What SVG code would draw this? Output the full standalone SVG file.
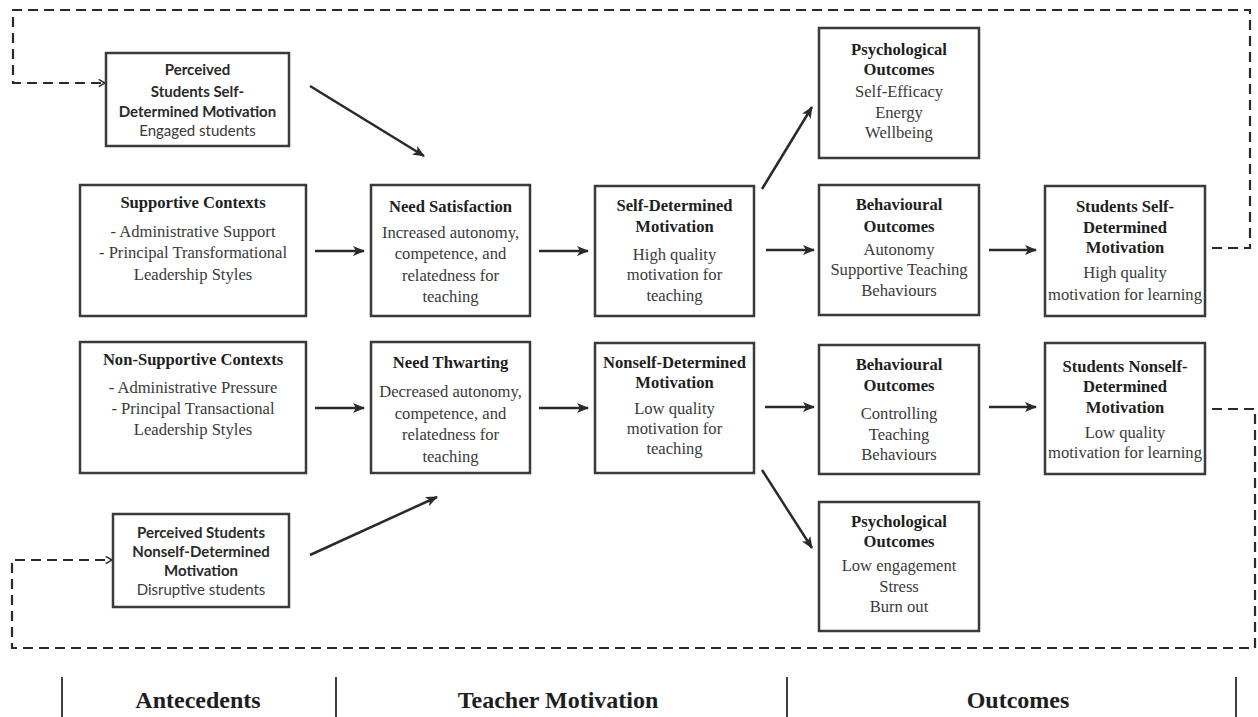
<svg xmlns="http://www.w3.org/2000/svg" width="1258" height="717" viewBox="0 0 1258 717">
<defs>
<style>
.box{fill:#fff;stroke:#3a3a3a;stroke-width:2.5}
.t{font-family:"Liberation Serif","Times New Roman",serif;font-size:16.6px;font-weight:bold;fill:#1e1e1e;text-anchor:middle}
.b{font-family:"Liberation Serif","Times New Roman",serif;font-size:16.6px;fill:#3a3a3a;text-anchor:middle}
.st{font-family:Lato,"Liberation Sans",sans-serif;font-size:15px;font-weight:bold;fill:#2a2a2a;text-anchor:middle}
.sb{font-family:Lato,"Liberation Sans",sans-serif;font-size:15px;fill:#3a3a3a;text-anchor:middle}
.lab{font-family:"Liberation Serif","Times New Roman",serif;font-size:24px;font-weight:bold;fill:#1e1e1e;text-anchor:middle}
.arr{fill:none;stroke:#2a2a2a;stroke-width:2.5;marker-end:url(#ah)}
.darr{fill:none;stroke:#2a2a2a;stroke-width:2.2;stroke-dasharray:10 6;marker-end:url(#dh)}
.sep{stroke:#2a2a2a;stroke-width:1.8}
</style>
<marker id="ah" viewBox="0 0 12 10" refX="11" refY="5" markerWidth="12" markerHeight="10" markerUnits="userSpaceOnUse" orient="auto">
<path d="M0,0 L12,5 L0,10 L3,5 Z" fill="#2a2a2a"/>
</marker>
<marker id="dh" viewBox="0 0 10 10" refX="9" refY="5" markerWidth="9" markerHeight="9" markerUnits="userSpaceOnUse" orient="auto">
<path d="M2,1 L9,5 L2,9" fill="none" stroke="#2a2a2a" stroke-width="1.6"/>
</marker>
</defs>
<rect width="1258" height="717" fill="#fff"/>

<g id="connectors">
<path class="arr" d="M310,86 L424,156"/>
<path class="arr" d="M315,251 L364,251"/>
<path class="arr" d="M539,251 L588,251"/>
<path class="arr" d="M762,189 L812,107"/>
<path class="arr" d="M766,250 L814,250"/>
<path class="arr" d="M989,250 L1036,250"/>
<path class="arr" d="M315,408 L364,408"/>
<path class="arr" d="M539,408 L588,408"/>
<path class="arr" d="M765,407 L814,407"/>
<path class="arr" d="M989,407 L1036,407"/>
<path class="arr" d="M762,470 L812,548"/>
<path class="arr" d="M310,555 L437,497"/>
<path class="darr" d="M1212,248 L1250,248 L1250,10 L13,10 L13,83 L105,83"/>
<path class="darr" d="M1212,409 L1255,409 L1255,648 L12,648 L12,560 L112,560"/>
</g>

<g id="n-perceived-self">
<rect class="box" x="106" y="53" width="183" height="93"/>
<text class="st" x="197.5" y="75">Perceived</text>
<text class="st" x="197.5" y="97">Students Self-</text>
<text class="st" x="197.5" y="117">Determined Motivation</text>
<text class="sb" x="197.5" y="136">Engaged students</text>
</g>

<g id="n-supportive">
<rect class="box" x="80" y="185" width="226" height="131"/>
<text class="t" x="193" y="208">Supportive Contexts</text>
<text class="b" x="193" y="237">- Administrative Support</text>
<text class="b" x="193" y="258">- Principal Transformational</text>
<text class="b" x="193" y="280">Leadership Styles</text>
</g>

<g id="n-need-satisfaction">
<rect class="box" x="371" y="185" width="159" height="131"/>
<text class="t" x="450.5" y="212">Need Satisfaction</text>
<text class="b" x="450.5" y="238">Increased autonomy,</text>
<text class="b" x="450.5" y="259">competence, and</text>
<text class="b" x="450.5" y="281">relatedness for</text>
<text class="b" x="450.5" y="302">teaching</text>
</g>

<g id="n-sdm">
<rect class="box" x="595" y="186" width="159" height="130"/>
<text class="t" x="674.5" y="211">Self-Determined</text>
<text class="t" x="674.5" y="232">Motivation</text>
<text class="b" x="674.5" y="260">High quality</text>
<text class="b" x="674.5" y="280">motivation for</text>
<text class="b" x="674.5" y="301">teaching</text>
</g>

<g id="n-psych-pos">
<rect class="box" x="819" y="28" width="160" height="130"/>
<text class="t" x="899" y="55">Psychological</text>
<text class="t" x="899" y="75">Outcomes</text>
<text class="b" x="899" y="97">Self-Efficacy</text>
<text class="b" x="899" y="118">Energy</text>
<text class="b" x="899" y="138">Wellbeing</text>
</g>

<g id="n-behav-pos">
<rect class="box" x="819" y="185" width="160" height="130"/>
<text class="t" x="899" y="210">Behavioural</text>
<text class="t" x="899" y="232">Outcomes</text>
<text class="b" x="899" y="255">Autonomy</text>
<text class="b" x="899" y="275">Supportive Teaching</text>
<text class="b" x="899" y="296">Behaviours</text>
</g>

<g id="n-students-sdm">
<rect class="box" x="1045" y="186" width="160" height="130"/>
<text class="t" x="1125" y="212">Students Self-</text>
<text class="t" x="1125" y="233">Determined</text>
<text class="t" x="1125" y="253">Motivation</text>
<text class="b" x="1125" y="278">High quality</text>
<text class="b" x="1125" y="300">motivation for learning</text>
</g>

<g id="n-nonsupportive">
<rect class="box" x="80" y="342" width="226" height="131"/>
<text class="t" x="193" y="365">Non-Supportive Contexts</text>
<text class="b" x="193" y="393">- Administrative Pressure</text>
<text class="b" x="193" y="414">- Principal Transactional</text>
<text class="b" x="193" y="435">Leadership Styles</text>
</g>

<g id="n-need-thwarting">
<rect class="box" x="371" y="342" width="159" height="131"/>
<text class="t" x="450.5" y="368">Need Thwarting</text>
<text class="b" x="450.5" y="397">Decreased autonomy,</text>
<text class="b" x="450.5" y="419">competence, and</text>
<text class="b" x="450.5" y="440">relatedness for</text>
<text class="b" x="450.5" y="462">teaching</text>
</g>

<g id="n-nsdm">
<rect class="box" x="595" y="343" width="159" height="130"/>
<text class="t" x="674.5" y="368">Nonself-Determined</text>
<text class="t" x="674.5" y="388">Motivation</text>
<text class="b" x="674.5" y="414">Low quality</text>
<text class="b" x="674.5" y="434">motivation for</text>
<text class="b" x="674.5" y="454">teaching</text>
</g>

<g id="n-behav-neg">
<rect class="box" x="819" y="345" width="160" height="129"/>
<text class="t" x="899" y="370">Behavioural</text>
<text class="t" x="899" y="391">Outcomes</text>
<text class="b" x="899" y="419">Controlling</text>
<text class="b" x="899" y="440">Teaching</text>
<text class="b" x="899" y="460">Behaviours</text>
</g>

<g id="n-students-nsdm">
<rect class="box" x="1045" y="343" width="160" height="131"/>
<text class="t" x="1125" y="372">Students Nonself-</text>
<text class="t" x="1125" y="392">Determined</text>
<text class="t" x="1125" y="413">Motivation</text>
<text class="b" x="1125" y="438">Low quality</text>
<text class="b" x="1125" y="458">motivation for learning</text>
</g>

<g id="n-psych-neg">
<rect class="box" x="819" y="502" width="160" height="129"/>
<text class="t" x="899" y="527">Psychological</text>
<text class="t" x="899" y="547">Outcomes</text>
<text class="b" x="899" y="571">Low engagement</text>
<text class="b" x="899" y="592">Stress</text>
<text class="b" x="899" y="612">Burn out</text>
</g>

<g id="n-perceived-nonself">
<rect class="box" x="113" y="514" width="176" height="93"/>
<text class="st" x="201" y="538">Perceived  Students</text>
<text class="st" x="201" y="557">Nonself-Determined</text>
<text class="st" x="201" y="576">Motivation</text>
<text class="sb" x="201" y="595">Disruptive students</text>
</g>

<g id="sections">
<line class="sep" x1="62" y1="677" x2="62" y2="717"/>
<line class="sep" x1="336" y1="677" x2="336" y2="717"/>
<line class="sep" x1="787" y1="677" x2="787" y2="717"/>
<line class="sep" x1="1236" y1="677" x2="1236" y2="717"/>
<text class="lab" x="198" y="708">Antecedents</text>
<text class="lab" x="558" y="708">Teacher Motivation</text>
<text class="lab" x="1018" y="708">Outcomes</text>
</g>
</svg>
